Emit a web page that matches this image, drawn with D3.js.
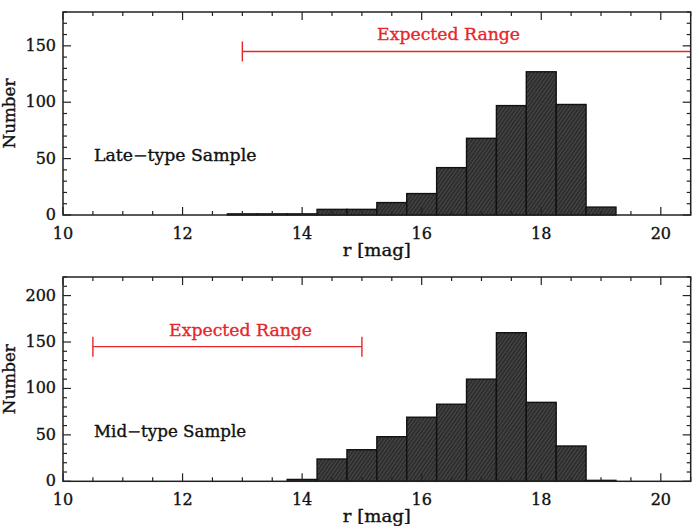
<!DOCTYPE html>
<html>
<head>
<meta charset="utf-8">
<script src="https://cdn.jsdelivr.net/npm/d3@7"></script>
<style>
  html, body { margin: 0; padding: 0; background: #fff; }
  svg { display: block; }
  text { font-family: "DejaVu Serif", "Liberation Serif", serif; fill: #111; stroke: #111; stroke-width: 0.35; }
</style>
</head>
<body>
<svg id="chart" width="693" height="526"></svg>
<script>
// ---- data ----
const binWidth = 0.5;
const lateBinStarts = [12.75, 13.25, 13.75, 14.25, 14.75, 15.25, 15.75, 16.25, 16.75, 17.25, 17.75, 18.25, 18.75];
const lateCounts    = [1, 1, 1, 5, 5, 11, 19, 42, 68, 97, 127, 98, 7];
const midBinStarts  = [13.75, 14.25, 14.75, 15.25, 15.75, 16.25, 16.75, 17.25, 17.75, 18.25, 18.75];
const midCounts     = [2, 24, 34, 48, 69, 83, 110, 160, 85, 38, 1];
const xTicks = [10, 12, 14, 16, 18, 20];
const lateYTicks = [0, 50, 100, 150];
const midYTicks = [0, 50, 100, 150, 200];
const lateRange = [13, 21];
const midRange = [10.5, 15];
const rangeLevel = 145;
const xLabel = "r [mag]";
const yLabel = "Number";
const rangeLabel = "Expected Range";

const svg = d3.select("#chart");

// hatch pattern
const defs = svg.append("defs");
const pat = defs.append("pattern").attr("id", "hatch").attr("patternUnits", "userSpaceOnUse")
  .attr("width", 3).attr("height", 3).attr("patternTransform", "rotate(-55)");
pat.append("rect").attr("width", 3).attr("height", 3).attr("fill", "#2e2e2e");
pat.append("line").attr("x1", 0).attr("y1", 0).attr("x2", 3).attr("y2", 0)
  .attr("stroke", "#6a6a6a").attr("stroke-width", 0.9);

function panel(cfg) {
  const {top, bottom, yMax, starts, counts, yTicks, range, rangeText, sampleText, sampleY, labelX} = cfg;
  const left = 63, right = 690.7;
  const x = d3.scaleLinear().domain([10, 20.5]).range([left, right]);
  const y = d3.scaleLinear().domain([0, yMax]).range([bottom, top]);
  const g = svg.append("g");

  const cid = "clip" + top;
  defs.append("clipPath").attr("id", cid).append("rect")
    .attr("x", left).attr("y", top).attr("width", right - left).attr("height", bottom - top);

  // bars
  g.append("g").selectAll("rect").data(starts).join("rect")
    .attr("x", (d) => x(d))
    .attr("width", (d) => x(d + binWidth) - x(d))
    .attr("y", (d, i) => y(counts[i]))
    .attr("height", (d, i) => y(0) - y(counts[i]))
    .attr("fill", "url(#hatch)")
    .attr("stroke", "#111").attr("stroke-width", 1.4);

  // expected range
  const red = "#e8262a";
  const rg = g.append("g").attr("clip-path", `url(#${cid})`).attr("stroke", red).attr("stroke-width", 1.4);
  rg.append("line").attr("x1", x(range[0])).attr("x2", x(range[1])).attr("y1", y(rangeLevel)).attr("y2", y(rangeLevel));
  range.forEach((r) => {
    rg.append("line").attr("x1", x(r)).attr("x2", x(r)).attr("y1", y(rangeLevel) - 10).attr("y2", y(rangeLevel) + 10);
  });
  g.append("text").attr("x", x(labelX)).attr("y", y(rangeLevel) - 11)
    .attr("text-anchor", "middle").attr("font-size", 16.5).style("fill", red).style("stroke", red)
    .attr("textLength", 143).attr("lengthAdjust", "spacingAndGlyphs").text(rangeText);

  // sample label
  g.append("text").attr("x", 94).attr("y", sampleY).attr("font-size", 16)
    .attr("textLength", sampleText.length * 10.15).attr("lengthAdjust", "spacingAndGlyphs").text(sampleText);

  // ticks inward on all four sides
  const minorX = d3.range(10, 20.51, 0.5);
  const minorY = d3.range(0, yMax + 0.1, 10);
  const tk = g.append("g").attr("stroke", "#222").attr("stroke-width", 1.2);
  minorX.forEach((v) => {
    const len = (Math.abs(v % 2) < 1e-6) ? 8 : 4;
    tk.append("line").attr("x1", x(v)).attr("x2", x(v)).attr("y1", bottom).attr("y2", bottom - len);
    tk.append("line").attr("x1", x(v)).attr("x2", x(v)).attr("y1", top).attr("y2", top + len);
  });
  minorY.forEach((v) => {
    const len = (Math.abs(v % 50) < 1e-6) ? 8 : 4;
    tk.append("line").attr("x1", left).attr("x2", left + len).attr("y1", y(v)).attr("y2", y(v));
    tk.append("line").attr("x1", right).attr("x2", right - len).attr("y1", y(v)).attr("y2", y(v));
  });
  g.append("rect").attr("x", left).attr("y", top).attr("width", right - left).attr("height", bottom - top)
    .attr("fill", "none").attr("stroke", "#222").attr("stroke-width", 1.5);

  // tick labels
  g.append("g").selectAll("text").data(xTicks).join("text")
    .attr("x", (d) => x(d)).attr("y", bottom + 24).attr("text-anchor", "middle")
    .attr("font-size", 16).text((d) => d);
  g.append("g").selectAll("text").data(yTicks).join("text")
    .attr("x", left - 7).attr("y", (d) => y(d) + 5).attr("text-anchor", "end")
    .attr("font-size", 16).text((d) => d);

  // axis titles
  g.append("text").attr("x", x(15.25)).attr("y", bottom + 41).attr("text-anchor", "middle")
    .attr("font-size", 16.5).attr("textLength", 68).attr("lengthAdjust", "spacingAndGlyphs").text(xLabel);
  g.append("text").attr("transform", `translate(15,${(top + bottom) / 2}) rotate(-90)`)
    .attr("text-anchor", "middle").attr("font-size", 16.5)
    .attr("textLength", 70).attr("lengthAdjust", "spacingAndGlyphs").text(yLabel);
}

panel({top: 12, bottom: 215, yMax: 180, starts: lateBinStarts, counts: lateCounts, yTicks: lateYTicks,
  range: lateRange, rangeText: rangeLabel, sampleText: "Late\u2212type Sample", sampleY: 161, labelX: 16.45});
panel({top: 277, bottom: 481.3, yMax: 220, starts: midBinStarts, counts: midCounts, yTicks: midYTicks,
  range: midRange, rangeText: rangeLabel, sampleText: "Mid\u2212type Sample", sampleY: 437, labelX: 12.97});
</script>
</body>
</html>
